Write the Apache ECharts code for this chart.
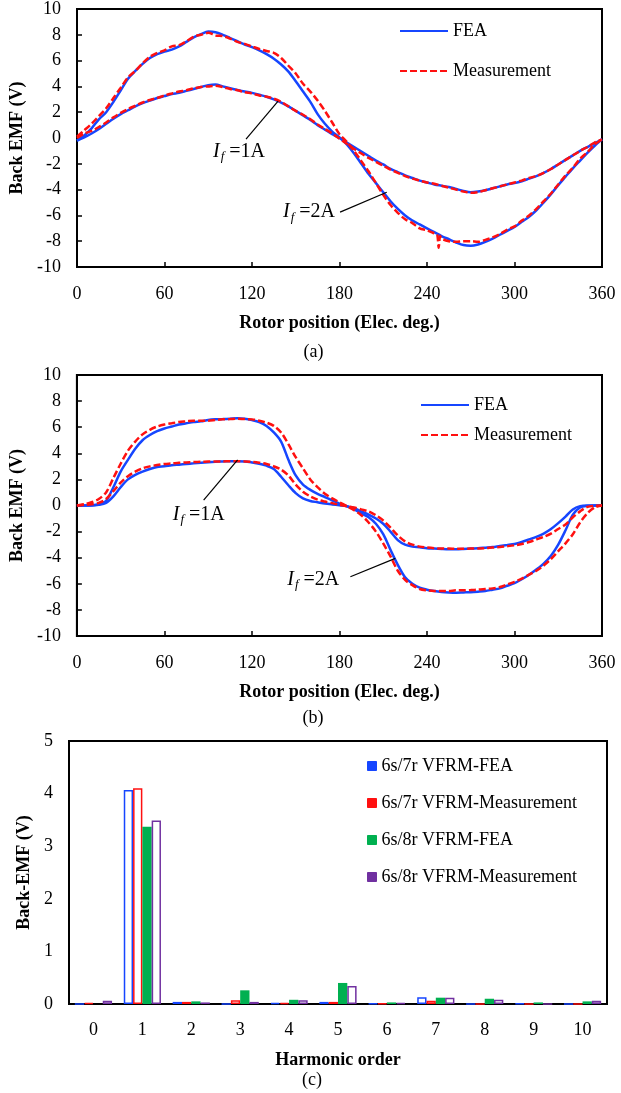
<!DOCTYPE html>
<html>
<head>
<meta charset="utf-8">
<script src="https://cdn.jsdelivr.net/npm/echarts@6/dist/echarts.min.js"></script>
<style>
html,body{margin:0;padding:0;background:#fff;}
#c{width:621px;height:1093px;}
</style>
</head>
<body>
<div id="c"></div>
<script>
// ---------- DATA ----------
const deg5 = [0,5,10,15,20,25,30,35,40,45,50,55,60,65,70,75,80,85,90,95,100,105,110,115,120,125,130,135,140,145,150,155,160,165,170,175,180,185,190,195,200,205,210,215,220,225,230,235,240,245,250,255,260,265,270,275,280,285,290,295,300,305,310,315,320,325,330,335,340,345,350,355,360];

// (a) sinusoidal-type back EMF
const aFea2A = [-0.2,0.2,0.75,1.45,2.0,2.8,3.7,4.6,5.2,5.75,6.2,6.5,6.7,6.85,7.1,7.45,7.8,8.05,8.25,8.2,8.0,7.75,7.5,7.25,7.05,6.8,6.5,6.15,5.7,5.15,4.4,3.6,2.8,1.85,1.1,0.5,0.05,-0.5,-1.2,-2.0,-2.8,-3.5,-4.2,-4.9,-5.5,-6.0,-6.4,-6.7,-7.0,-7.3,-7.6,-7.85,-8.1,-8.3,-8.35,-8.25,-8.05,-7.8,-7.5,-7.2,-6.9,-6.5,-6.1,-5.6,-5.0,-4.35,-3.65,-3.0,-2.35,-1.75,-1.15,-0.6,-0.1];
const aFea1A = [-0.2,0.05,0.35,0.7,1.1,1.5,1.85,2.15,2.45,2.7,2.9,3.1,3.25,3.4,3.5,3.65,3.8,3.95,4.1,4.15,4.0,3.85,3.72,3.6,3.5,3.35,3.2,3.0,2.75,2.45,2.1,1.75,1.4,1.0,0.65,0.3,0.0,-0.35,-0.7,-1.05,-1.4,-1.75,-2.05,-2.4,-2.65,-2.9,-3.1,-3.3,-3.45,-3.6,-3.7,-3.8,-3.95,-4.1,-4.2,-4.15,-4.05,-3.9,-3.75,-3.6,-3.5,-3.35,-3.15,-2.95,-2.7,-2.4,-2.05,-1.7,-1.35,-1.0,-0.7,-0.4,-0.1];
const aMeasDeg2A = [0,5,10,15,20,25,30,35,40,45,50,55,60,65,70,75,80,85,90,95,100,105,110,115,120,125,130,135,140,145,150,155,160,165,170,175,180,185,190,195,200,205,210,215,220,225,230,235,240,245,247,248,249,250,255,260,265,270,275,280,285,290,295,300,305,310,315,320,325,330,335,340,345,350,355,360];
const aMeas2A = [0.1,0.6,1.1,1.7,2.3,3.1,3.9,4.7,5.2,5.8,6.3,6.6,6.8,7.1,7.2,7.5,7.85,8.0,8.15,7.95,7.9,7.7,7.45,7.3,7.1,6.9,6.75,6.6,6.2,5.6,5.0,4.2,3.6,2.9,2.1,1.2,0.3,-0.3,-1.0,-1.8,-2.6,-3.5,-4.4,-5.2,-5.8,-6.3,-6.6,-7.0,-7.15,-7.4,-7.5,-8.5,-7.6,-7.8,-8.0,-8.05,-8.0,-8.0,-8.05,-7.9,-7.7,-7.45,-7.1,-6.85,-6.4,-6.0,-5.5,-4.9,-4.3,-3.6,-2.9,-2.3,-1.6,-1.1,-0.5,-0.1];
const aMeas1A = [0.0,0.35,0.55,0.85,1.2,1.6,1.95,2.25,2.5,2.75,2.95,3.1,3.3,3.45,3.6,3.7,3.85,3.95,4.0,4.05,3.95,3.8,3.7,3.55,3.45,3.3,3.2,3.05,2.8,2.45,2.1,1.8,1.45,1.05,0.7,0.35,-0.05,-0.45,-0.85,-1.2,-1.55,-1.85,-2.15,-2.45,-2.7,-2.95,-3.15,-3.3,-3.45,-3.55,-3.7,-3.85,-4.0,-4.15,-4.25,-4.2,-4.05,-3.9,-3.75,-3.6,-3.45,-3.3,-3.1,-2.95,-2.7,-2.4,-2.05,-1.7,-1.35,-1.0,-0.7,-0.35,-0.1];

// (b) trapezoidal-type back EMF
const bFea2A = [0,0,0.02,0.1,0.35,1.4,2.6,3.5,4.35,5.0,5.4,5.7,5.9,6.05,6.2,6.3,6.4,6.45,6.55,6.6,6.62,6.65,6.68,6.65,6.55,6.4,6.1,5.6,4.9,3.5,2.3,1.6,1.2,0.9,0.65,0.4,0.15,-0.05,-0.3,-0.6,-0.9,-1.4,-2.2,-3.4,-4.55,-5.5,-6.0,-6.3,-6.45,-6.55,-6.62,-6.66,-6.68,-6.66,-6.64,-6.6,-6.55,-6.45,-6.35,-6.15,-5.95,-5.65,-5.3,-4.9,-4.45,-3.85,-3.0,-1.9,-0.7,-0.15,-0.03,0,0];
const bFea1A = [0,0,0,0.05,0.2,0.7,1.4,2.0,2.35,2.6,2.8,2.95,3.0,3.08,3.13,3.18,3.23,3.28,3.32,3.35,3.38,3.4,3.4,3.38,3.3,3.2,3.05,2.8,2.2,1.55,0.95,0.55,0.35,0.25,0.15,0.08,0.02,-0.05,-0.2,-0.45,-0.7,-1.0,-1.4,-2.0,-2.65,-3.0,-3.15,-3.2,-3.27,-3.3,-3.33,-3.35,-3.35,-3.33,-3.3,-3.28,-3.23,-3.18,-3.1,-3.03,-2.95,-2.8,-2.6,-2.4,-2.15,-1.8,-1.35,-0.85,-0.3,-0.05,0,0,0];
const bMeas2A = [0,0.1,0.25,0.5,1.0,2.1,3.2,4.2,4.9,5.45,5.8,6.05,6.2,6.3,6.4,6.45,6.5,6.5,6.5,6.55,6.6,6.62,6.65,6.62,6.6,6.5,6.35,6.1,5.6,4.7,3.7,2.85,2.0,1.4,0.9,0.55,0.25,-0.05,-0.35,-0.75,-1.3,-2.0,-2.9,-3.9,-5.0,-5.7,-6.1,-6.4,-6.5,-6.55,-6.55,-6.55,-6.5,-6.5,-6.48,-6.45,-6.4,-6.35,-6.25,-6.05,-5.85,-5.6,-5.3,-5.0,-4.6,-4.1,-3.5,-2.9,-2.2,-1.3,-0.6,-0.15,0];
const bMeas1A = [0,0.05,0.1,0.2,0.5,1.1,1.75,2.25,2.6,2.85,3.0,3.1,3.18,3.22,3.27,3.3,3.33,3.35,3.37,3.38,3.38,3.4,3.4,3.38,3.35,3.28,3.18,3.0,2.75,2.3,1.6,1.05,0.7,0.45,0.3,0.18,0.05,-0.05,-0.15,-0.3,-0.45,-0.75,-1.15,-1.7,-2.3,-2.75,-3.0,-3.15,-3.22,-3.27,-3.3,-3.3,-3.32,-3.32,-3.3,-3.3,-3.27,-3.22,-3.18,-3.12,-3.05,-2.95,-2.8,-2.6,-2.4,-2.15,-1.8,-1.45,-0.9,-0.45,-0.1,-0.02,0];

// (c) harmonics
const harmonics = ['0','1','2','3','4','5','6','7','8','9','10'];
const h7rFea  = [0.00,4.07,0.04,0.00,0.02,0.04,0.01,0.13,0.00,0.01,0.00];
const h7rMeas = [0.02,4.10,0.04,0.07,0.02,0.04,0.01,0.06,0.00,0.00,0.00];
const h8rFea  = [0.00,3.37,0.05,0.26,0.08,0.40,0.03,0.12,0.10,0.03,0.05];
const h8rMeas = [0.06,3.49,0.03,0.04,0.07,0.34,0.02,0.12,0.08,0.00,0.06];

const xTicksDeg = {min:0, max:360, interval:60};
const yTicksEmf = {min:-10, max:10, interval:2};
const yTicksHarm = {min:0, max:5, interval:1};

// ---------- STYLE ----------
const FONT = 'Liberation Serif';
const BLUE = '#1646ff';
const RED = '#ff1010';
const GREEN = '#00b050';
const PURPLE = '#7030a0';

const pairs = (xs, ys) => xs.map((x, i) => [x, ys[i]]);

function valueXAxis(gi, nameGap) {
  return {
    gridIndex: gi, type: 'value', min: xTicksDeg.min, max: xTicksDeg.max, interval: xTicksDeg.interval,
    name: 'Rotor position (Elec. deg.)', nameLocation: 'middle', nameGap: nameGap,
    nameTextStyle: {fontFamily: FONT, fontSize: 18, fontWeight: 'bold', color: '#000'},
    axisLine: {onZero: false, lineStyle: {color: '#000', width: 2}},
    axisTick: {inside: true, length: 5, lineStyle: {color: '#000', width: 1.5}},
    axisLabel: {fontFamily: FONT, fontSize: 18, color: '#000', margin: 18},
    splitLine: {show: false}
  };
}
function emfYAxis(gi) {
  return {
    gridIndex: gi, type: 'value', min: yTicksEmf.min, max: yTicksEmf.max, interval: yTicksEmf.interval,
    name: 'Back EMF (V)', nameLocation: 'middle', nameGap: 50,
    nameTextStyle: {fontFamily: FONT, fontSize: 18, fontWeight: 'bold', color: '#000'},
    axisLine: {show: true, onZero: false, lineStyle: {color: '#000', width: 2}},
    axisTick: {show: true, inside: true, length: 5, lineStyle: {color: '#000', width: 1.5}},
    axisLabel: {fontFamily: FONT, fontSize: 18, color: '#000', margin: 16},
    splitLine: {show: false}
  };
}
function lineSeries(name, gi, data, color, dashed) {
  return {
    type: 'line', name: name, xAxisIndex: gi, yAxisIndex: gi, data: data,
    showSymbol: false, symbol: 'none', smooth: 0.3, animation: false,
    lineStyle: {color: color, width: 2.5, type: dashed ? [7, 3] : 'solid'},
    itemStyle: {color: color}, z: dashed ? 3 : 2
  };
}
function barSeries(name, data, color, filled) {
  return {
    type: 'bar', name: name, xAxisIndex: 2, yAxisIndex: 2, data: data,
    barWidth: 9.3, barGap: '0%', animation: false,
    itemStyle: filled ? {color: color} : {color: '#fff', borderColor: color, borderWidth: 1.5}
  };
}

const legendText = {fontFamily: FONT, fontSize: 18, color: '#000'};
const lineLegendItemStyle = {opacity: 0};

const option = {
  backgroundColor: '#fff',
  animation: false,
  grid: [
    {left: 77, top: 7, width: 525, height: 260, show: true, borderColor: '#000', borderWidth: 2},
    {left: 76, top: 375, width: 526, height: 261, show: true, borderColor: '#000', borderWidth: 2},
    {left: 69, top: 741, width: 538, height: 263, show: true, borderColor: '#000', borderWidth: 2}
  ],
  xAxis: [
    valueXAxis(0, 47),
    valueXAxis(1, 47),
    {
      gridIndex: 2, type: 'category', data: harmonics,
      name: 'Harmonic order', nameLocation: 'middle', nameGap: 47,
      nameTextStyle: {fontFamily: FONT, fontSize: 18, fontWeight: 'bold', color: '#000'},
      axisLine: {onZero: false, lineStyle: {color: '#000', width: 2}},
      axisTick: {inside: true, length: 6, lineStyle: {color: '#000', width: 1.5}},
      axisLabel: {fontFamily: FONT, fontSize: 18, color: '#000', margin: 17},
      splitLine: {show: false}
    }
  ],
  yAxis: [
    emfYAxis(0),
    emfYAxis(1),
    {
      gridIndex: 2, type: 'value', min: yTicksHarm.min, max: yTicksHarm.max, interval: yTicksHarm.interval,
      name: 'Back-EMF (V)', nameLocation: 'middle', nameGap: 31,
      nameTextStyle: {fontFamily: FONT, fontSize: 18, fontWeight: 'bold', color: '#000'},
      axisLine: {show: true, onZero: false, lineStyle: {color: '#000', width: 2}},
      axisTick: {show: false},
      axisLabel: {fontFamily: FONT, fontSize: 18, color: '#000', margin: 16},
      splitLine: {show: false}
    }
  ],
  legend: [
    {
      orient: 'vertical', left: 394, top: 17, itemWidth: 48, itemHeight: 14, itemGap: 22,
      textStyle: legendText, itemStyle: lineLegendItemStyle, data: ['FEA', 'Measurement']
    },
    {
      orient: 'vertical', left: 415, top: 391, itemWidth: 48, itemHeight: 14, itemGap: 12,
      textStyle: legendText, itemStyle: lineLegendItemStyle, data: ['FEA ', 'Measurement ']
    },
    {
      orient: 'vertical', left: 362, top: 752, itemWidth: 9, itemHeight: 9, itemGap: 19,
      textStyle: legendText, icon: 'rect',
      data: [
        {name: '6s/7r VFRM-FEA', itemStyle: {color: BLUE, borderColor: BLUE, borderWidth: 1}},
        {name: '6s/7r VFRM-Measurement', itemStyle: {color: RED, borderColor: RED, borderWidth: 1}},
        {name: '6s/8r VFRM-FEA', itemStyle: {color: GREEN, borderColor: GREEN, borderWidth: 1}},
        {name: '6s/8r VFRM-Measurement', itemStyle: {color: PURPLE, borderColor: PURPLE, borderWidth: 1}}
      ]
    }
  ],
  series: [
    lineSeries('FEA', 0, pairs(deg5, aFea2A), BLUE, false),
    lineSeries('FEA', 0, pairs(deg5, aFea1A), BLUE, false),
    lineSeries('Measurement', 0, pairs(aMeasDeg2A, aMeas2A), RED, true),
    lineSeries('Measurement', 0, pairs(deg5, aMeas1A), RED, true),
    lineSeries('FEA ', 1, pairs(deg5, bFea2A), BLUE, false),
    lineSeries('FEA ', 1, pairs(deg5, bFea1A), BLUE, false),
    lineSeries('Measurement ', 1, pairs(deg5, bMeas2A), RED, true),
    lineSeries('Measurement ', 1, pairs(deg5, bMeas1A), RED, true),
    barSeries('6s/7r VFRM-FEA', h7rFea, BLUE, false),
    barSeries('6s/7r VFRM-Measurement', h7rMeas, RED, false),
    barSeries('6s/8r VFRM-FEA', h8rFea, GREEN, true),
    barSeries('6s/8r VFRM-Measurement', h8rMeas, PURPLE, false)
  ]
};

const chart = echarts.init(document.getElementById('c'), null, {renderer: 'canvas'});
chart.setOption(option);

// ---------- ANNOTATIONS (positioned in data space) ----------
const annotations = [
  {grid: 0, label: '1A', text: [93.3, -1.08], from: [115.9, -0.08], to: [137.9, 2.85]},
  {grid: 0, label: '2A', text: [141.3, -5.75], from: [180.4, -5.75], to: [212.4, -4.2]},
  {grid: 1, label: '1A', text: [65.7, -0.73], from: [86.9, 0.42], to: [110.2, 3.49]},
  {grid: 1, label: '2A', text: [144.2, -5.7], from: [187.5, -5.46], to: [218.3, -4.05]}
];
const captions = [
  {grid: 0, text: '(a)', dy: 85},
  {grid: 1, text: '(b)', dy: 82},
  {grid: 2, text: '(c)', dy: 76}
];
const gfx = [];
annotations.forEach(a => {
  const t = chart.convertToPixel({gridIndex: a.grid}, a.text);
  const p1 = chart.convertToPixel({gridIndex: a.grid}, a.from);
  const p2 = chart.convertToPixel({gridIndex: a.grid}, a.to);
  gfx.push({type: 'line', shape: {x1: p1[0], y1: p1[1], x2: p2[0], y2: p2[1]}, style: {stroke: '#000', lineWidth: 1.2}, z: 10});
  gfx.push({
    type: 'text', x: t[0], y: t[1], z: 10,
    style: {
      text: '{i|I}{s|f}{n| =' + a.label + '}',
      verticalAlign: 'middle', align: 'left',
      rich: {
        i: {fontFamily: FONT, fontSize: 20, fontStyle: 'italic', fill: '#000', lineHeight: 22},
        s: {fontFamily: FONT, fontSize: 13, fontStyle: 'italic', fill: '#000', lineHeight: 22, padding: [10, 0, 0, 1]},
        n: {fontFamily: FONT, fontSize: 20, fill: '#000', lineHeight: 22}
      }
    }
  });
});
captions.forEach(c => {
  const g = option.grid[c.grid];
  gfx.push({
    type: 'text', x: g.left + g.width / 2 - 26, y: g.top + g.height + c.dy, z: 10,
    style: {text: c.text, fontFamily: FONT, fontSize: 18, fill: '#000', align: 'center', verticalAlign: 'middle'}
  });
});
chart.setOption({graphic: gfx});
</script>
</body>
</html>
